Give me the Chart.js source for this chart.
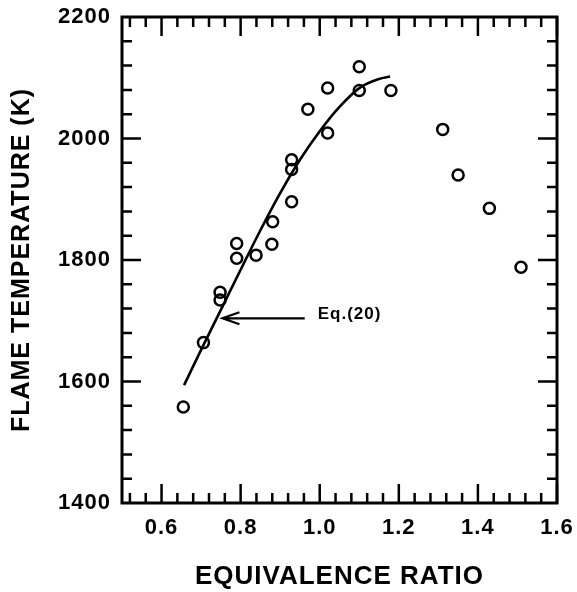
<!DOCTYPE html>
<html>
<head>
<meta charset="utf-8">
<script src="https://cdn.jsdelivr.net/npm/chart.js@4/dist/chart.umd.min.js"></script>
<style>
  html, body { margin: 0; padding: 0; background: #fff; }
  #wrap { width: 577px; height: 592px; }
</style>
</head>
<body>
<div id="wrap"><canvas id="c" width="577" height="592"></canvas></div>
<script>
// Measured flame temperatures vs. equivalence ratio
const phiMeasured  = [0.655, 0.706, 0.748, 0.748, 0.790, 0.790, 0.839, 0.879, 0.881, 0.929, 0.929, 0.929, 0.970, 1.020, 1.020, 1.100, 1.100, 1.180, 1.311, 1.350, 1.429, 1.509];
const tempMeasured = [1558, 1664, 1747, 1734, 1827, 1803, 1808, 1826, 1863, 1896, 1949, 1965, 2048, 2083, 2009, 2118, 2079, 2079, 2015, 1940, 1885, 1788];

// Correlation curve, Eq.(20)
const phiEq20  = [0.657, 0.70, 0.75, 0.80, 0.85, 0.90, 0.95, 1.00, 1.05, 1.10, 1.15, 1.178];
const tempEq20 = [1594, 1652, 1718, 1784, 1849, 1910, 1965, 2012, 2052, 2083, 2098, 2102];

// Axis ticks
const phiTicks  = [0.6, 0.8, 1.0, 1.2, 1.4, 1.6];
const tempTicks = [1400, 1600, 1800, 2000, 2200];
const phiRange  = [0.5, 1.6];
const tempRange = [1400, 2200];
const phiMinorStep  = 0.04;
const tempMinorStep = 40;

const FONT = "'Liberation Sans', Arial, Helvetica, sans-serif";

const frameTicks = {
  id: 'frameTicks',
  beforeDraw(chart) {
    chart.ctx.letterSpacing = '1px';
  },
  afterDraw(chart) {
    const { ctx, chartArea: a } = chart;
    const sx = chart.scales.x, sy = chart.scales.y;
    ctx.save();
    ctx.letterSpacing = '0px';
    ctx.strokeStyle = '#000';
    ctx.lineCap = 'butt';

    // ticks, pointing inward on all four sides
    const majorLen = 19, minorLen = 10;
    ctx.lineWidth = 2.5;
    const isMajor = (v, list) => list.some(t => Math.abs(t - v) < 1e-6);
    ctx.beginPath();
    for (let v = 0.52; v <= phiRange[1] + 1e-9; v += phiMinorStep) {
      const vv = Math.round(v * 100) / 100;
      const px = sx.getPixelForValue(vv);
      const len = isMajor(vv, phiTicks) ? majorLen : minorLen;
      ctx.moveTo(px, a.bottom); ctx.lineTo(px, a.bottom - len);
      ctx.moveTo(px, a.top);    ctx.lineTo(px, a.top + len);
    }
    for (let v = tempRange[0] + tempMinorStep; v < tempRange[1]; v += tempMinorStep) {
      const py = sy.getPixelForValue(v);
      const len = isMajor(v, tempTicks) ? majorLen : minorLen;
      ctx.moveTo(a.left, py);  ctx.lineTo(a.left + len, py);
      ctx.moveTo(a.right, py); ctx.lineTo(a.right - len, py);
    }
    ctx.stroke();

    // frame
    ctx.lineWidth = 3;
    ctx.strokeRect(a.left, a.top, a.right - a.left, a.bottom - a.top);

    // Eq.(20) pointer
    const tipX = sx.getPixelForValue(0.754), tipY = sy.getPixelForValue(1704);
    const tailX = sx.getPixelForValue(0.962);
    ctx.lineWidth = 2.2;
    ctx.beginPath();
    ctx.moveTo(tailX, tipY); ctx.lineTo(tipX + 1, tipY);
    ctx.moveTo(tipX + 17, tipY - 6); ctx.lineTo(tipX, tipY); ctx.lineTo(tipX + 17, tipY + 6);
    ctx.stroke();

    ctx.letterSpacing = '1px';
    ctx.fillStyle = '#000';
    ctx.font = 'bold 17px ' + FONT;
    ctx.textAlign = 'left';
    ctx.textBaseline = 'middle';
    ctx.fillText('Eq.(20)', sx.getPixelForValue(0.995), tipY - 4);
    ctx.restore();
  }
};

const setTicks = list => scale => { scale.ticks = list.map(v => ({ value: v })); };
const noSidePad = s => { s.paddingLeft = 0; s.paddingRight = 0; s.paddingTop = 0; s.paddingBottom = 0; };

new Chart(document.getElementById('c'), {
  type: 'scatter',
  data: {
    datasets: [
      {
        label: 'Eq.(20)',
        data: phiEq20.map((x, i) => ({ x, y: tempEq20[i] })),
        showLine: true,
        borderColor: '#000',
        borderWidth: 2.6,
        pointRadius: 0,
        fill: false,
        cubicInterpolationMode: 'monotone',
        order: 2
      },
      {
        label: 'Measured',
        data: phiMeasured.map((x, i) => ({ x, y: tempMeasured[i] })),
        showLine: false,
        pointStyle: 'circle',
        pointRadius: 5.5,
        pointBorderWidth: 2.5,
        pointBackgroundColor: 'rgba(255,255,255,0)',
        pointBorderColor: '#000',
        order: 1
      }
    ]
  },
  options: {
    responsive: false,
    animation: false,
    devicePixelRatio: 1,
    layout: { padding: 0 },
    plugins: { legend: { display: false }, tooltip: { enabled: false } },
    scales: {
      x: {
        type: 'linear', position: 'bottom',
        min: phiRange[0], max: phiRange[1],
        afterBuildTicks: setTicks(phiTicks),
        afterFit: s => { s.height = 89; noSidePad(s); },
        grid: { display: false }, border: { display: false },
        ticks: {
          color: '#000', padding: 4,
          font: { family: FONT, size: 22, weight: 'bold' },
          maxRotation: 0,
          callback: v => v.toFixed(1)
        },
        title: {
          display: true, text: 'EQUIVALENCE RATIO', color: '#000',
          font: { family: FONT, size: 26, weight: 'bold' },
          padding: { top: 0, bottom: 0 }
        }
      },
      x2: {
        type: 'linear', position: 'top',
        min: phiRange[0], max: phiRange[1],
        afterFit: s => { s.height = 17; noSidePad(s); },
        grid: { display: false }, border: { display: false },
        ticks: { display: false }
      },
      y: {
        type: 'linear', position: 'left',
        min: tempRange[0], max: tempRange[1],
        afterBuildTicks: setTicks(tempTicks),
        afterFit: s => { s.width = 122; noSidePad(s); },
        grid: { display: false }, border: { display: false },
        ticks: {
          color: '#000', padding: 3,
          font: { family: FONT, size: 22, weight: 'bold' },
          callback: v => String(v)
        },
        title: {
          display: true, text: 'FLAME TEMPERATURE (K)', color: '#000',
          font: { family: FONT, size: 25, weight: 'bold' },
          padding: { top: 7, bottom: 0 }
        }
      },
      y2: {
        type: 'linear', position: 'right',
        min: tempRange[0], max: tempRange[1],
        afterFit: s => { s.width = 20; noSidePad(s); },
        grid: { display: false }, border: { display: false },
        ticks: { display: false }
      }
    }
  },
  plugins: [frameTicks]
});
</script>
</body>
</html>
